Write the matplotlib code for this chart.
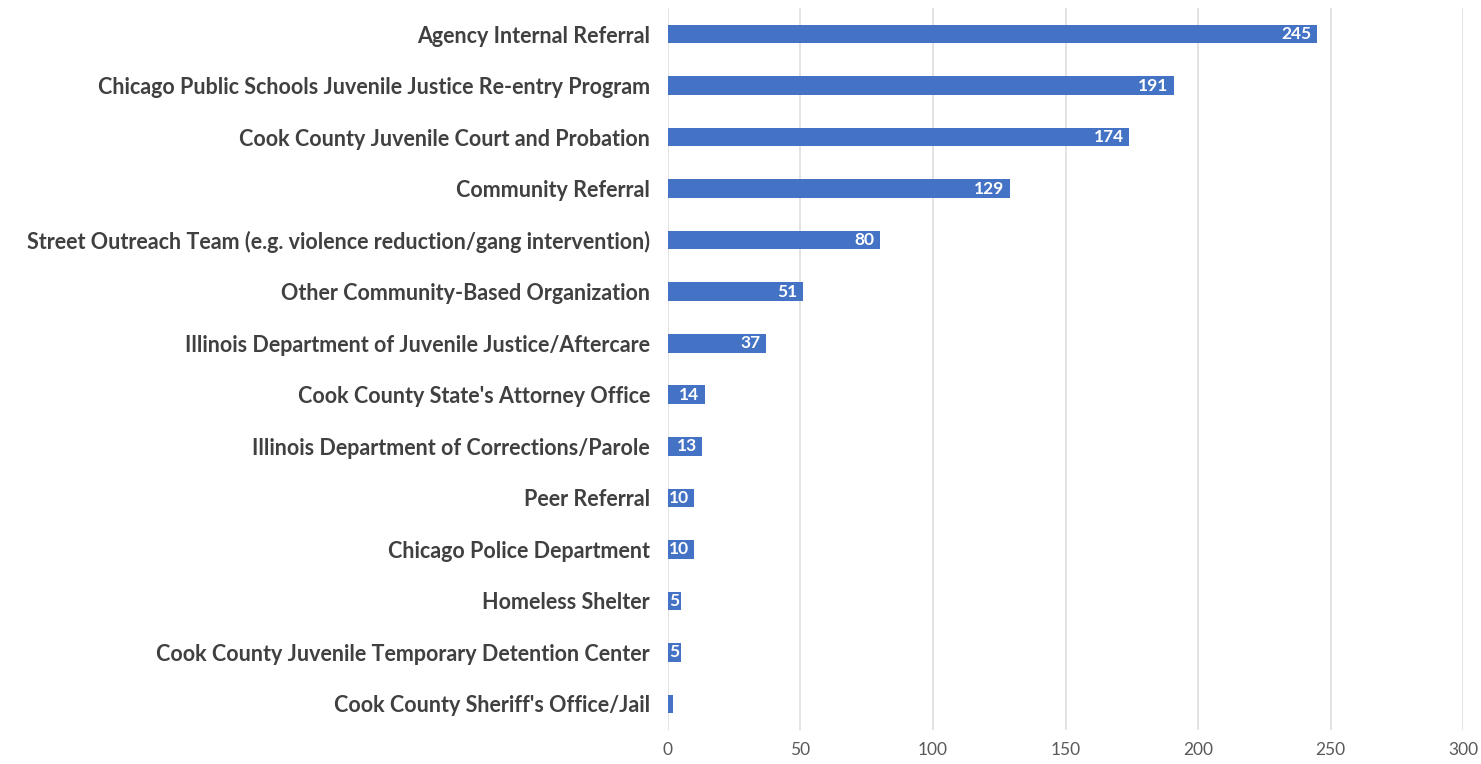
import matplotlib
matplotlib.use("Agg")
import matplotlib.pyplot as plt
from matplotlib.transforms import offset_copy

# referral sources, top to bottom as in the chart
sources = [
    "Agency Internal Referral",
    "Chicago Public Schools Juvenile Justice Re-entry Program",
    "Cook County Juvenile Court and Probation",
    "Community Referral",
    "Street Outreach Team (e.g. violence reduction/gang intervention)",
    "Other Community-Based Organization",
    "Illinois Department of Juvenile Justice/Aftercare",
    "Cook County State's Attorney Office",
    "Illinois Department of Corrections/Parole",
    "Peer Referral",
    "Chicago Police Department",
    "Homeless Shelter",
    "Cook County Juvenile Temporary Detention Center",
    "Cook County Sheriff's Office/Jail",
]
counts = [245, 191, 174, 129, 80, 51, 37, 14, 13, 10, 10, 5, 5, 2]
show_label = [True] * 13 + [False]
x_ticks = [0, 50, 100, 150, 200, 250, 300]

bar_color = "#4472C4"

fig = plt.figure(figsize=(14.81, 7.64), dpi=100)
ax = fig.add_axes([0.451, 0.045, 0.537, 0.944])

ypos = list(range(len(sources)))
bars = ax.barh(ypos, counts, height=0.36, color=bar_color, zorder=3)
ax.set_ylim(len(sources) - 0.5, -0.5)
ax.set_xlim(0, 300)
ax.set_xticks(x_ticks)
ax.set_xticklabels([str(t) for t in x_ticks], fontsize=12.5, color="#595959", family="Lato")
ax.set_yticks(ypos)
ax.set_yticklabels(sources, fontsize=15.5, fontweight="bold", color="#404040", family="Lato")
ax.tick_params(axis="both", length=0)
ax.tick_params(axis="y", pad=13)
ax.tick_params(axis="x", pad=9)

ax.grid(axis="x", color="#dedede", linewidth=1.2, zorder=0)
for s in ax.spines.values():
    s.set_visible(False)

# inside-end labels, a few pixels in from the bar end (or at the left edge for tiny bars)
inset = offset_copy(ax.transData, fig=fig, x=-4, y=0, units="points")
for b, v, show in zip(bars, counts, show_label):
    if not show:
        continue
    yc = b.get_y() + b.get_height() / 2
    if v >= 10:
        ax.text(b.get_width(), yc, str(v), transform=inset, ha="right", va="center",
                color="white", fontsize=12.5, fontweight="bold", family="Lato", zorder=4)
    else:
        ax.text(0.3, yc, str(v), ha="left", va="center",
                color="white", fontsize=12.5, fontweight="bold", family="Lato", zorder=4)

fig.savefig("out.png", dpi=100)
